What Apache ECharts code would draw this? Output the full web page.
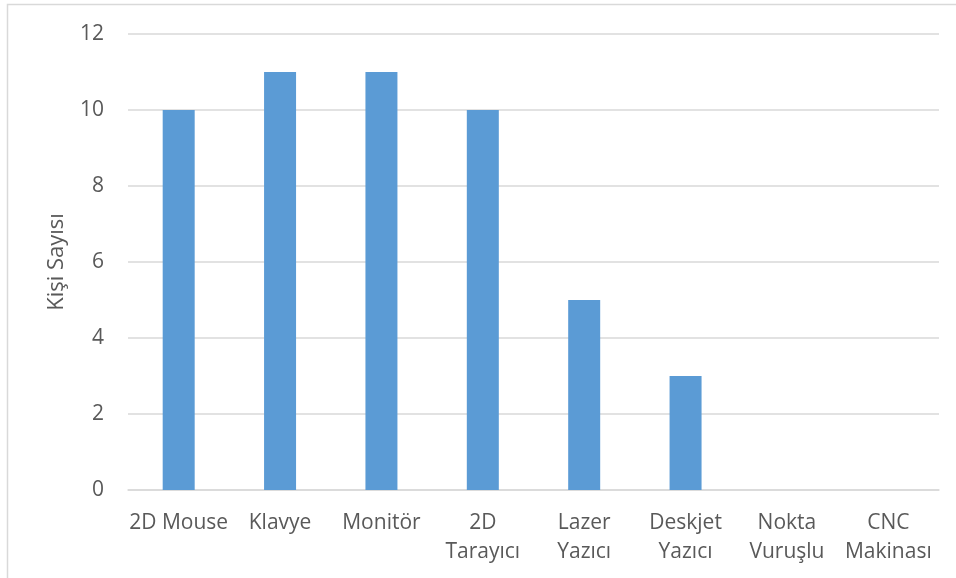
<!DOCTYPE html>
<html>
<head>
<meta charset="utf-8">
<script src="https://cdn.jsdelivr.net/npm/echarts@6/dist/echarts.min.js"></script>
<style>
  html, body { margin: 0; padding: 0; background: #fff; }
  #chart { width: 956px; height: 578px; }
</style>
</head>
<body>
<div id="chart"></div>
<script>
// Device categories (two-line labels where the name wraps)
const categories = ['2D Mouse', 'Klavye', 'Monitör', '2D\nTarayıcı', 'Lazer\nYazıcı', 'Deskjet\nYazıcı', 'Nokta\nVuruşlu', 'CNC\nMakinası'];
// Number of people per device
const counts = [10, 11, 11, 10, 5, 3, 0, 0];
const yAxisTitle = 'Kişi Sayısı';

const textColor = '#595959';
const fontFamily = '"Open Sans", "Noto Sans", sans-serif';

const chart = echarts.init(document.getElementById('chart'), null, { renderer: 'canvas' });
chart.setOption({
  animation: false,
  backgroundColor: '#ffffff',
  graphic: [{
    type: 'rect',
    shape: { x: 7.5, y: 4.5, width: 1000, height: 1000 },
    style: { fill: 'none', stroke: '#d9d9d9', lineWidth: 1.5 },
    silent: true
  }],
  grid: { left: 128, right: 17, top: 34, bottom: 88 },
  xAxis: {
    type: 'category',
    data: categories,
    axisTick: { show: false },
    axisLine: { lineStyle: { color: '#d9d9d9', width: 1.5 } },
    axisLabel: {
      color: textColor, fontFamily, fontSize: 21, lineHeight: 29, margin: 19, interval: 0
    }
  },
  yAxis: {
    type: 'value',
    min: 0, max: 12, interval: 2,
    name: yAxisTitle,
    nameLocation: 'middle',
    nameGap: 60,
    nameTextStyle: { color: textColor, fontFamily, fontSize: 22 },
    axisLine: { show: false },
    axisTick: { show: false },
    axisLabel: { color: textColor, fontFamily, fontSize: 21, margin: 24 },
    splitLine: { lineStyle: { color: '#d9d9d9', width: 1.5 } }
  },
  series: [{
    type: 'bar',
    data: counts,
    barWidth: 32,
    itemStyle: { color: '#5b9bd5' }
  }]
});
</script>
</body>
</html>
